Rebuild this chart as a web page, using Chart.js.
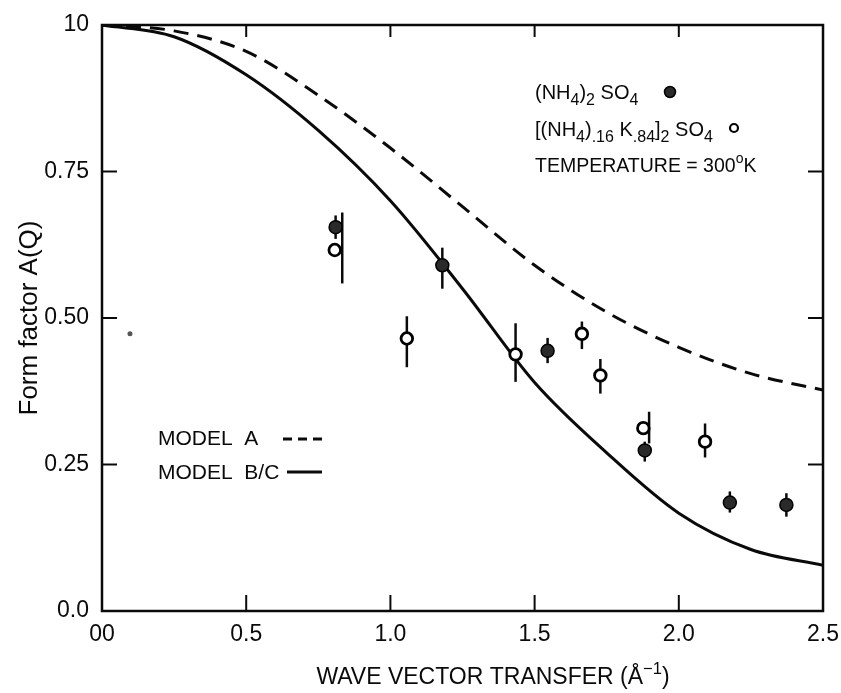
<!DOCTYPE html>
<html><head><meta charset="utf-8">
<script src="https://cdn.jsdelivr.net/npm/chart.js@4"></script>
<style>html,body{margin:0;padding:0;background:#fff;overflow:hidden}</style>
</head><body>
<canvas id="c" width="841" height="693"></canvas>
<script>
// ---- data ----
const qModel  = [0, 0.25, 0.5, 0.75, 1.0, 1.25, 1.5, 1.75, 2.0, 2.25, 2.5];
const modelA  = [1.0, 0.99, 0.955, 0.88, 0.79, 0.69, 0.59, 0.51, 0.45, 0.405, 0.377];
const modelBC = [1.0, 0.98, 0.915, 0.82, 0.70, 0.55, 0.39, 0.27, 0.167, 0.105, 0.078];

const qFilled   = [0.81, 1.18, 1.545, 1.882, 2.177, 2.373];
const aFilled   = [0.655, 0.590, 0.444, 0.274, 0.185, 0.181];
const aFilledLo = [0.635, 0.550, 0.423, 0.255, 0.168, 0.161];
const aFilledHi = [0.675, 0.620, 0.466, 0.289, 0.204, 0.201];

const qOpen    = [0.807, 1.057, 1.434, 1.664, 1.728, 1.877, 2.091];
const aOpen    = [0.616, 0.465, 0.438, 0.473, 0.402, 0.312, 0.289];
const aOpenLo  = [0.559, 0.416, 0.391, 0.447, 0.371, 0.286, 0.262];
const aOpenHi  = [0.680, 0.503, 0.491, 0.494, 0.430, 0.340, 0.320];
const qOpenBar = [0.833, 1.057, 1.434, 1.664, 1.728, 1.897, 2.091];

const qStray = [0.097];
const aStray = [0.473];

const xTickLabels = ['00', '0.5', '1.0', '1.5', '2.0', '2.5'];
const yTickLabels = ['0.0', '0.25', '0.50', '0.75', '10'];

// ---- helpers ----
const pts = (xs, ys) => xs.map((x, i) => ({x, y: ys[i]}));
const INK = '#0a0a0a';
const FONT = '"Liberation Sans", Arial, sans-serif';

function richText(ctx, x, y, parts, size) {
  let cx = x;
  parts.forEach(([t, kind]) => {
    let s = size, dy = 0;
    if (kind === 'sub') { s = size * 0.8; dy = size * 0.32; }
    if (kind === 'sup') { s = size * 0.72; dy = -size * 0.45; }
    ctx.font = s + 'px ' + FONT;
    ctx.fillText(t, cx, y + dy);
    cx += ctx.measureText(t).width;
  });
  return cx;
}
function richWidth(ctx, parts, size) {
  let w = 0;
  parts.forEach(([t, kind]) => {
    let s = size;
    if (kind === 'sub') s = size * 0.8;
    if (kind === 'sup') s = size * 0.72;
    ctx.font = s + 'px ' + FONT;
    w += ctx.measureText(t).width;
  });
  return w;
}

const errorBars = {
  id: 'errorBars',
  beforeDatasetsDraw(chart) {
    const {ctx, scales: {x, y}} = chart;
    ctx.save();
    ctx.strokeStyle = INK; ctx.lineWidth = 2.5;
    const bar = (q, lo, hi) => {
      const px = x.getPixelForValue(q);
      ctx.beginPath();
      ctx.moveTo(px, y.getPixelForValue(lo));
      ctx.lineTo(px, y.getPixelForValue(hi));
      ctx.stroke();
    };
    qFilled.forEach((q, i) => bar(q, aFilledLo[i], aFilledHi[i]));
    qOpenBar.forEach((q, i) => bar(q, aOpenLo[i], aOpenHi[i]));
    ctx.restore();
  }
};

const frame = {
  id: 'frame',
  afterDraw(chart) {
    const {ctx, chartArea: a, scales: {x, y}} = chart;
    ctx.save();
    ctx.strokeStyle = INK; ctx.lineWidth = 2.5;
    ctx.strokeRect(a.left, a.top, a.right - a.left, a.bottom - a.top);
    const seg = (x1, y1, x2, y2) => { ctx.beginPath(); ctx.moveTo(x1, y1); ctx.lineTo(x2, y2); ctx.stroke(); };
    ctx.lineWidth = 2;
    x.ticks.forEach(t => {
      if (t.value <= x.min || t.value >= x.max) return;
      const px = x.getPixelForValue(t.value);
      seg(px, a.bottom, px, a.bottom - 16);
      seg(px, a.top, px, a.top + 12);
    });
    y.ticks.forEach(t => {
      if (t.value <= y.min || t.value >= y.max) return;
      const py = y.getPixelForValue(t.value);
      seg(a.left, py, a.left + 15, py);
      seg(a.right, py, a.right - 15, py);
    });

    // x-axis title
    ctx.fillStyle = INK;
    ctx.textBaseline = 'alphabetic';
    const tParts = [['WAVE VECTOR TRANSFER (Å', 'n'], ['\u22121', 'sup'], [')', 'n']];
    const tw = richWidth(ctx, tParts, 23);
    richText(ctx, 493 - tw / 2, 684, tParts, 23);

    // top-right legend
    const fs = 20;
    richText(ctx, 535, 99, [['(NH', 'n'], ['4', 'sub'], [')', 'n'], ['2', 'sub'], [' SO', 'n'], ['4', 'sub']], fs);
    richText(ctx, 535, 136, [['[(NH', 'n'], ['4', 'sub'], [')', 'n'], ['.16', 'sub'], [' K', 'n'], ['.84', 'sub'], [']', 'n'], ['2', 'sub'], [' SO', 'n'], ['4', 'sub']], fs);
    richText(ctx, 535, 172, [['TEMPERATURE = 300', 'n'], ['o', 'sup'], ['K', 'n']], 19.5);
    // legend markers
    ctx.lineWidth = 1.5;
    ctx.beginPath(); ctx.arc(670, 92, 5.5, 0, Math.PI * 2); ctx.fillStyle = '#2a2a2a'; ctx.fill(); ctx.strokeStyle = '#000'; ctx.stroke();
    ctx.lineWidth = 2.2;
    ctx.beginPath(); ctx.arc(734, 128, 4, 0, Math.PI * 2); ctx.fillStyle = '#fff'; ctx.fill(); ctx.strokeStyle = '#000'; ctx.stroke();

    // left legend
    ctx.fillStyle = INK;
    ctx.font = '21px ' + FONT;
    ctx.fillText('MODEL  A', 158, 445);
    ctx.fillText('MODEL  B/C', 158, 479);
    ctx.strokeStyle = INK; ctx.lineWidth = 3;
    ctx.setLineDash([9, 6]);
    seg(283, 439, 323, 439);
    ctx.setLineDash([]);
    seg(287, 472, 322, 472);
    ctx.restore();
  }
};

new Chart(document.getElementById('c'), {
  type: 'scatter',
  data: {
    datasets: [
      { label: 'filled', data: pts(qFilled, aFilled), order: 0,
        pointRadius: 6.5, pointBackgroundColor: '#2a2a2a', pointBorderColor: '#000', pointBorderWidth: 1.5 },
      { label: 'open', data: pts(qOpen, aOpen), order: 0,
        pointRadius: 5.8, pointBackgroundColor: '#fff', pointBorderColor: '#000', pointBorderWidth: 2.8 },
      { label: 'stray', data: pts(qStray, aStray), order: 0,
        pointRadius: 2.5, pointBackgroundColor: '#555', pointBorderColor: '#555', pointBorderWidth: 0 },
      { label: 'MODEL A', data: pts(qModel, modelA), order: 2, showLine: true,
        borderColor: INK, borderWidth: 3, borderDash: [15, 9], pointRadius: 0,
        cubicInterpolationMode: 'monotone', fill: false },
      { label: 'MODEL B/C', data: pts(qModel, modelBC), order: 2, showLine: true,
        borderColor: INK, borderWidth: 3, pointRadius: 0,
        cubicInterpolationMode: 'monotone', fill: false }
    ]
  },
  options: {
    responsive: false, animation: false, devicePixelRatio: 1,
    layout: { padding: { top: 25, right: 17, left: 0, bottom: 0 } },
    plugins: { legend: { display: false }, tooltip: { enabled: false } },
    scales: {
      x: {
        type: 'linear', min: 0, max: 2.5,
        afterFit(s) { s.height = 82; },
        grid: { display: false }, border: { display: false },
        ticks: { stepSize: 0.5, autoSkip: false, maxRotation: 0, padding: 2, color: INK,
          font: { family: FONT, size: 23 },
          callback: (v, i) => xTickLabels[i] },
        title: { display: false }
      },
      y: {
        type: 'linear', min: 0, max: 1,
        afterFit(s) { s.width = 102; },
        grid: { display: false }, border: { display: false },
        ticks: { stepSize: 0.25, autoSkip: false, padding: 5, color: INK,
          font: { family: FONT, size: 23 },
          callback: (v, i) => yTickLabels[i] },
        title: { display: true, text: 'Form factor A(Q)', color: INK,
          font: { family: FONT, size: 26 }, padding: { top: 14, bottom: 0 } }
      }
    }
  },
  plugins: [errorBars, frame]
});
</script>
</body></html>
